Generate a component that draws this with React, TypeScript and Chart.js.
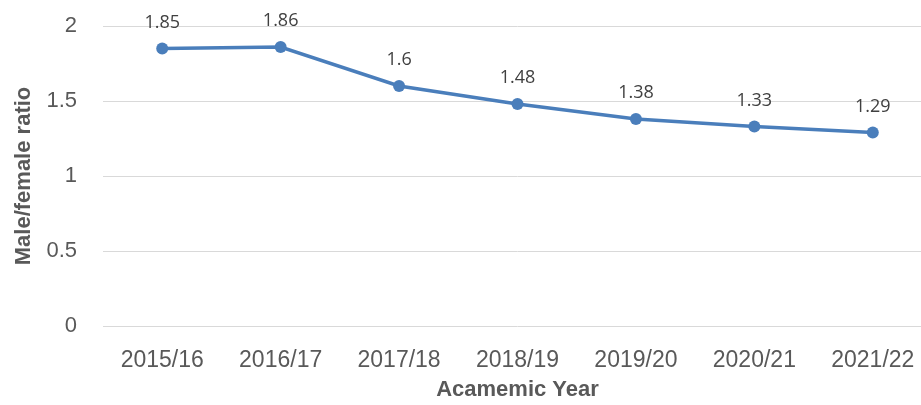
import React, { useEffect, useRef } from "react";
import { Chart, registerables } from "chart.js";

Chart.register(...registerables);

const categories = ["2015/16", "2016/17", "2017/18", "2018/19", "2019/20", "2020/21", "2021/22"];
const ratios = [1.85, 1.86, 1.6, 1.48, 1.38, 1.33, 1.29];
const yTicks = [0, 0.5, 1, 1.5, 2];

const LINE_COLOR = "#4a7ebb";
const TEXT_COLOR = "#595959";

const dataLabelPlugin = {
  id: "dataLabels",
  afterDatasetsDraw(chart: any) {
    const ctx = chart.ctx;
    const meta = chart.getDatasetMeta(0);
    ctx.save();
    ctx.font = "18px 'Open Sans'";
    ctx.fillStyle = "#404040";
    ctx.textAlign = "center";
    ctx.textBaseline = "middle";
    meta.data.forEach((pt: any, i: number) => {
      ctx.fillText(String(ratios[i]), pt.x, pt.y - 26);
    });
    ctx.restore();
  },
};

export default function App() {
  const ref = useRef<HTMLCanvasElement | null>(null);
  useEffect(() => {
    if (!ref.current) return;
    const chart = new Chart(ref.current, {
      type: "line",
      data: {
        labels: categories,
        datasets: [
          {
            data: ratios,
            borderColor: LINE_COLOR,
            backgroundColor: LINE_COLOR,
            borderWidth: 3.5,
            pointRadius: 6,
            pointHoverRadius: 6,
            pointBackgroundColor: LINE_COLOR,
            pointBorderWidth: 0,
            tension: 0,
            fill: false,
          },
        ],
      },
      options: {
        responsive: false,
        animation: false,
        layout: { padding: { top: 26, right: 3, left: 0, bottom: 0 } },
        plugins: {
          legend: { display: false },
          tooltip: { enabled: false },
        },
        scales: {
          x: {
            offset: true,
            grid: { display: false, drawTicks: false },
            border: { display: false },
            ticks: {
              color: TEXT_COLOR,
              font: { family: "'Liberation Sans', Arial", size: 23 },
              padding: 21,
              maxRotation: 0,
              autoSkip: false,
            },
            title: {
              display: true,
              text: "Acamemic Year",
              color: TEXT_COLOR,
              font: { family: "'Liberation Sans', Arial", size: 22, weight: "bold" },
              padding: { top: 0, bottom: 2 },
            },
            afterFit(scale: any) {
              scale.height = 79;
              scale.paddingLeft = 0;
              scale.paddingRight = 0;
            },
          },
          y: {
            min: 0,
            max: 2,
            afterBuildTicks(scale: any) {
              scale.ticks = yTicks.map((v) => ({ value: v }));
            },
            grid: { color: "#d9d9d9", lineWidth: 1, drawTicks: false },
            border: { display: false },
            ticks: {
              color: TEXT_COLOR,
              font: { family: "'Liberation Sans', Arial", size: 22 },
              padding: 26,
              callback: (v: any) => String(v),
            },
            title: {
              display: true,
              text: "Male/female ratio",
              color: TEXT_COLOR,
              font: { family: "'Liberation Sans', Arial", size: 22, weight: "bold" },
              padding: { top: 11, bottom: 0 },
            },
            afterFit(scale: any) {
              scale.width = 103;
              scale.paddingTop = 0;
              scale.paddingBottom = 0;
            },
          },
        },
      },
      plugins: [dataLabelPlugin],
    } as any);
    return () => chart.destroy();
  }, []);
  return (
    <div
      style={{
        position: "fixed",
        left: 0,
        top: 0,
        width: 921,
        height: 405,
        overflow: "hidden",
        background: "#ffffff",
      }}
    >
      <canvas ref={ref} width={938} height={405} style={{ display: "block" }} />
    </div>
  );
}
